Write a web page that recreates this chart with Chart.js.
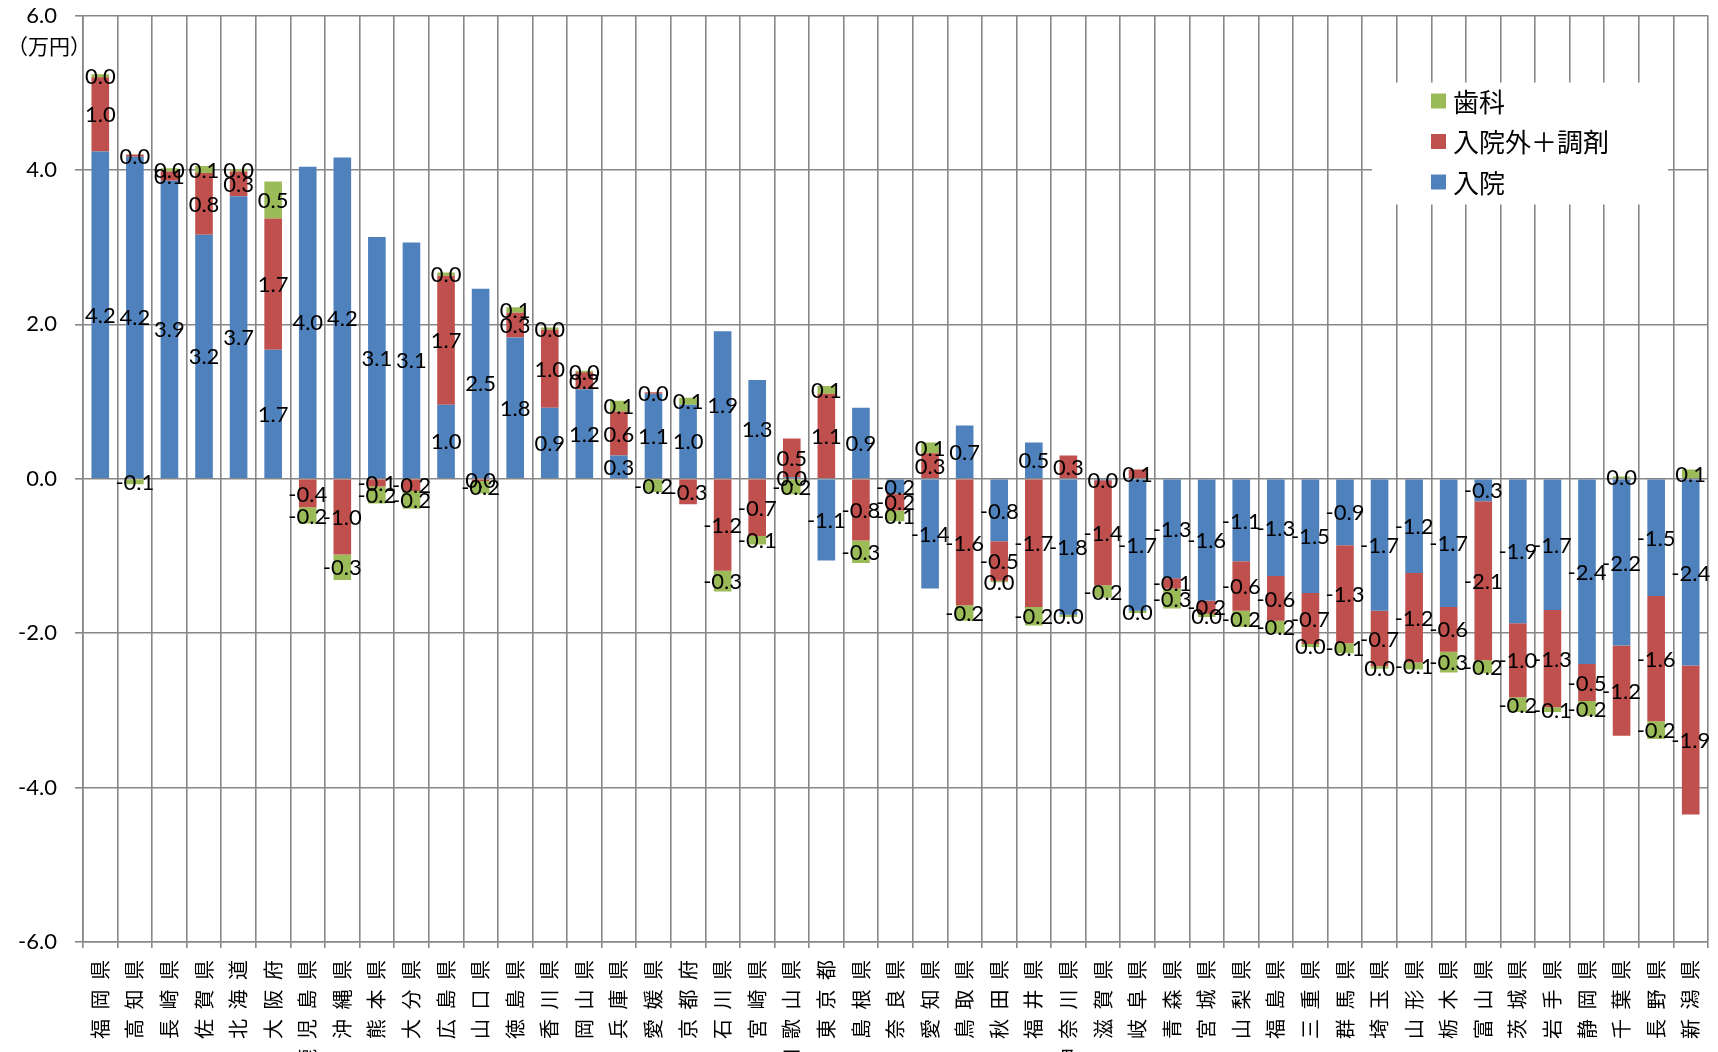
<!DOCTYPE html>
<html lang="ja">
<head>
<meta charset="utf-8">
<title>都道府県別 医療費の差（入院・入院外＋調剤・歯科）</title>
<script src="https://cdn.jsdelivr.net/npm/chart.js@4.4.1/dist/chart.umd.min.js"></script>
<style>
  html, body { margin: 0; padding: 0; background: #ffffff; overflow: hidden; }
  #wrap { width: 1718px; height: 1052px; }
</style>
</head>
<body>
<div id="wrap"><canvas id="chart" width="1718" height="1052"></canvas></div>
<script>
// 都道府県（並び順はグラフ左から）
const prefectures = [
  '福岡県','高知県','長崎県','佐賀県','北海道','大阪府','鹿児島県','沖縄県','熊本県','大分県',
  '広島県','山口県','徳島県','香川県','岡山県','兵庫県','愛媛県','京都府','石川県','宮崎県',
  '和歌山県','東京都','島根県','奈良県','愛知県','鳥取県','秋田県','福井県','神奈川県','滋賀県',
  '岐阜県','青森県','宮城県','山梨県','福島県','三重県','群馬県','埼玉県','山形県','栃木県',
  '富山県','茨城県','岩手県','静岡県','千葉県','長野県','新潟県'
];

// 入院（万円）
const inpatient = [
  4.24, 4.17, 3.86, 3.16, 3.66, 1.67, 4.04, 4.16, 3.13, 3.06,
  0.96, 2.46, 1.83, 0.92, 1.16, 0.30, 1.10, 0.96, 1.91, 1.28,
  0.02, -1.06, 0.92, -0.19, -1.42, 0.69, -0.81, 0.47, -1.76, -0.02,
  -1.71, -1.29, -1.58, -1.07, -1.26, -1.48, -0.86, -1.71, -1.22, -1.66,
  -0.29, -1.87, -1.70, -2.40, -2.16, -1.52, -2.42
];

// 入院外＋調剤（万円）
const outpatientPharmacy = [
  0.96, 0.03, 0.12, 0.80, 0.32, 1.70, -0.37, -0.98, -0.10, -0.16,
  1.67, -0.03, 0.32, 1.01, 0.22, 0.57, 0.02, -0.33, -1.19, -0.74,
  0.50, 1.10, -0.80, -0.22, 0.33, -1.64, -0.51, -1.66, 0.30, -1.36,
  0.12, -0.13, -0.17, -0.64, -0.58, -0.66, -1.27, -0.72, -1.16, -0.58,
  -2.06, -0.96, -1.26, -0.48, -1.17, -1.62, -1.93
];

// 歯科（万円）
const dental = [
  0.04, -0.07, 0.04, 0.09, 0.03, 0.48, -0.21, -0.33, -0.22, -0.23,
  0.04, -0.16, 0.07, 0.03, 0.02, 0.14, -0.17, 0.09, -0.27, -0.11,
  -0.20, 0.10, -0.29, -0.14, 0.14, -0.20, -0.02, -0.24, -0.03, -0.16,
  -0.03, -0.26, -0.04, -0.21, -0.16, -0.04, -0.13, -0.03, -0.09, -0.27,
  -0.17, -0.19, -0.06, -0.19, 0.03, -0.23, 0.12
];

// 縦軸の目盛り
const yTicks = [-6, -4, -2, 0, 2, 4, 6];
const unitLabel = '（万円）';

const COLORS = { inpatient: '#4F81BD', outpatient: '#C0504D', dental: '#9BBB59' };
const GRID = '#878787';
const NUM_FONT = 'Lato, "Open Sans", "DejaVu Sans", sans-serif';
const JP_FONT = '"Noto Sans CJK JP", "Noto Sans", sans-serif';
const X_LABEL_SPACING = 9.5;   // 横軸ラベルの字間(px)

function fmt(v) {
  return Math.abs(v) < 0.05 ? '0.0' : v.toFixed(1);
}

// 各積み上げ区間の中央に値を描く
const segmentLabels = {
  id: 'segmentLabels',
  afterDatasetsDraw(chart) {
    const ctx = chart.ctx;
    ctx.save();
    ctx.font = '22px ' + NUM_FONT;
    ctx.fillStyle = '#000000';
    ctx.textAlign = 'center';
    ctx.textBaseline = 'middle';
    chart.data.datasets.forEach((ds, di) => {
      const meta = chart.getDatasetMeta(di);
      meta.data.forEach((bar, i) => {
        const p = bar.getProps(['x', 'y', 'base'], true);
        ctx.fillText(fmt(ds.data[i]), p.x, (p.y + p.base) / 2 + 1);
      });
    });
    ctx.restore();
  }
};

// 横軸ラベルに字間をつける
const xLabelSpacing = {
  id: 'xLabelSpacing',
  afterLayout(chart) {
    const sx = chart.scales.x;
    if (!sx || sx._spaced) return;
    const orig = sx.drawLabels;
    sx.drawLabels = function (area) {
      const c = this.ctx;
      c.save();
      c.letterSpacing = X_LABEL_SPACING + 'px';
      orig.call(this, area);
      c.restore();
    };
    sx._spaced = true;
  }
};

// 凡例（右上の白枠）と単位表示
const legendBox = {
  id: 'legendBox',
  afterDraw(chart) {
    const ctx = chart.ctx;
    const a = chart.chartArea;
    ctx.save();
    // 単位
    ctx.font = '21px ' + JP_FONT;
    ctx.fillStyle = '#000000';
    ctx.textAlign = 'right';
    ctx.textBaseline = 'middle';
    ctx.fillText(unitLabel, a.left + 8, a.top + 31);

    // 凡例
    const bx = a.right - 336, by = a.top + 67, bw = 296, bh = 122;
    ctx.fillStyle = '#ffffff';
    ctx.fillRect(bx, by, bw, bh);
    const items = chart.data.datasets.slice().reverse();
    ctx.font = '26px ' + JP_FONT;
    ctx.textAlign = 'left';
    items.forEach((ds, k) => {
      const cy = by + 18.5 + k * 40.5;
      ctx.fillStyle = ds.backgroundColor;
      ctx.fillRect(bx + 59, cy - 7.5, 15, 15);
      ctx.fillStyle = '#000000';
      ctx.fillText(ds.label, bx + 81, cy + 1);
    });
    ctx.restore();
  }
};

new Chart(document.getElementById('chart'), {
  type: 'bar',
  data: {
    labels: prefectures,
    datasets: [
      { label: '入院', data: inpatient, backgroundColor: COLORS.inpatient },
      { label: '入院外＋調剤', data: outpatientPharmacy, backgroundColor: COLORS.outpatient },
      { label: '歯科', data: dental, backgroundColor: COLORS.dental }
    ]
  },
  options: {
    responsive: false,
    animation: false,
    devicePixelRatio: 1,
    layout: { padding: { top: 0, right: 10, left: 0, bottom: 0 } },
    datasets: { bar: { categoryPercentage: 1.0, barPercentage: 0.51, borderWidth: 0 } },
    plugins: {
      legend: { display: false },
      tooltip: { enabled: false }
    },
    scales: {
      x: {
        stacked: true,
        grid: { color: GRID, lineWidth: 1.6, offset: true, drawTicks: true, tickLength: 6, tickColor: GRID },
        border: { color: GRID, width: 1.6 },
        afterFit(scale) { scale.height = 110; },
        ticks: {
          autoSkip: false,
          maxRotation: 90,
          minRotation: 90,
          padding: 12 - X_LABEL_SPACING,
          color: '#000000',
          font: { family: JP_FONT, size: 20, lineHeight: 1.2 }
        }
      },
      y: {
        stacked: true,
        min: yTicks[0],
        max: yTicks[yTicks.length - 1],
        afterBuildTicks(scale) { scale.ticks = yTicks.map(v => ({ value: v })); },
        afterFit(scale) {
          scale.width = 83;
          scale.paddingTop = 15.5;
          scale.paddingBottom = 15;
        },
        grid: { color: GRID, lineWidth: 1.6, drawTicks: true, tickLength: 8, tickColor: GRID },
        border: { color: GRID, width: 1.6 },
        ticks: {
          padding: 18,
          color: '#000000',
          font: { family: NUM_FONT, size: 22 },
          callback(v) { return Number(v).toFixed(1); }
        }
      }
    }
  },
  plugins: [segmentLabels, xLabelSpacing, legendBox]
});
</script>
</body>
</html>
